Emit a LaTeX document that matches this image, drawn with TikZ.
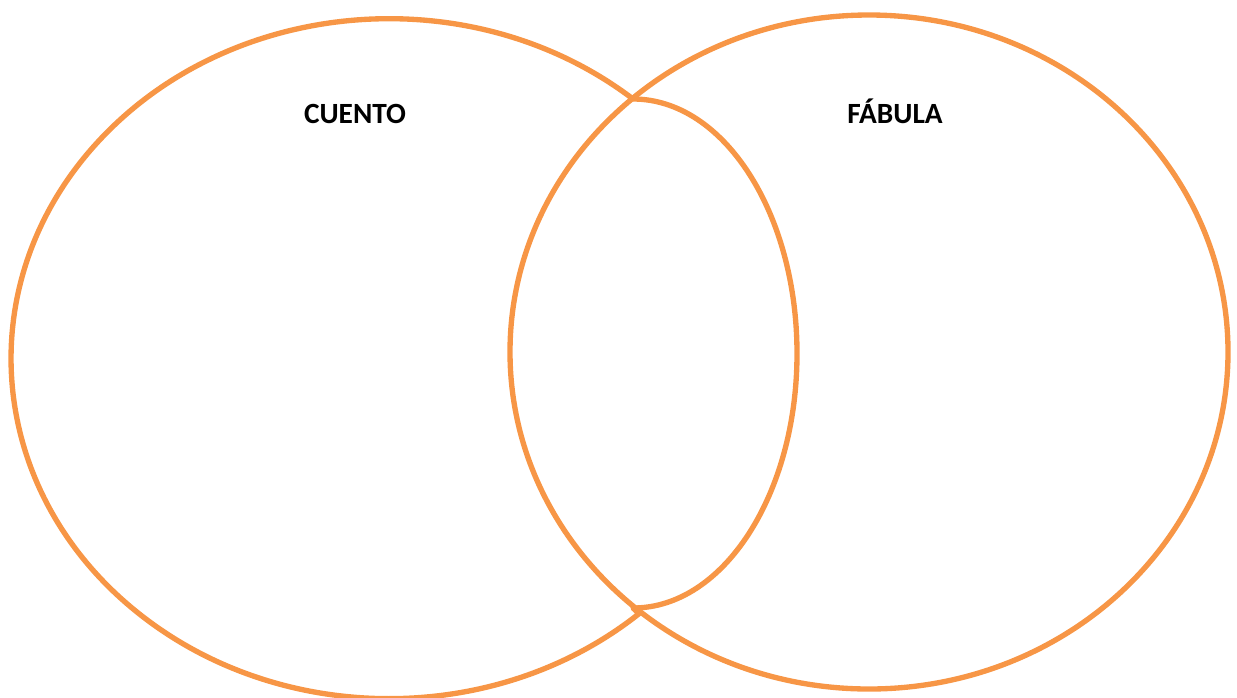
\documentclass[tikz,border=0pt]{standalone}
\usepackage{fontspec}
\setmainfont{Carlito}
\definecolor{vennorange}{RGB}{247,150,70}

\begin{document}
\begin{tikzpicture}[
		x=0.75pt, y=-0.75pt,
		outline/.style={draw=vennorange,line width=4pt,line join=round},
		title/.style  ={font=\fontsize{22}{26}\selectfont\bfseries,inner sep=0pt,anchor=base}
		]

		% ---- page frame (pixel grid of the reference) ----
		\useasboundingbox (0,0) rectangle (1237,697);

		% ---- left set: outer ellipse, closed by the inner arc ----
		\draw[outline] (633,99)
			arc[start angle=-49.8, end angle=-311.4, x radius=378, y radius=340]
			-- (633,608)
			arc[start angle=90, end angle=-90, x radius=164, y radius=254.5]
			-- cycle;

		% ---- right set ----
		\draw[outline] (869,352) ellipse[x radius=359, y radius=337];

		% ---- set titles ----
		\node[title] (cuento) at (355,123) {CUENTO};
		\node[title] (fabula) at (895,123) {FÁBULA};

	\end{tikzpicture}
\end{document}
